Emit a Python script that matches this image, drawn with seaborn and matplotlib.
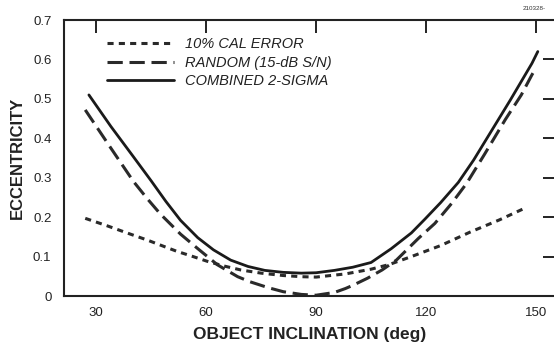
import matplotlib
matplotlib.use("Agg")
import matplotlib.pyplot as plt
import seaborn as sns
import pandas as pd

# ---- data ----
combined_x = [28, 34, 40, 45, 49, 53, 57.7, 62, 66.7, 71.4, 76, 81, 86, 90, 95, 100, 105,
              110.5, 116, 119.7, 124, 128.8, 133, 138, 143, 148.9, 150.5]
combined_y = [0.51, 0.43, 0.355, 0.292, 0.24, 0.192, 0.148, 0.117, 0.091, 0.075, 0.065, 0.06, 0.058, 0.059, 0.065, 0.073, 0.085,
              0.12, 0.16, 0.195, 0.237, 0.288, 0.345, 0.421, 0.497, 0.59, 0.62]

random_x = [27, 34, 40.2, 44, 47.5, 53, 57.6, 63.1, 68.6, 72, 77, 81, 86, 90, 95, 98, 100, 104, 108,
            111.9, 117.9, 122.4, 127, 131.1, 136, 141.6, 146, 148.9, 150]
random_y = [0.472, 0.375, 0.29, 0.246, 0.208, 0.157, 0.121, 0.079, 0.049, 0.036, 0.021, 0.011, 0.004, 0.002, 0.009, 0.019, 0.027, 0.045, 0.066,
            0.091, 0.146, 0.184, 0.235, 0.286, 0.36, 0.447, 0.51, 0.561, 0.578]

cal_x = [27, 33, 39.3, 43.9, 48.4, 52.1, 55.8, 60.3, 64.9, 69.5, 75, 81, 86, 90, 98, 105, 110, 116, 124, 132, 140, 147]
cal_y = [0.197, 0.178, 0.157, 0.142, 0.126, 0.113, 0.102, 0.088, 0.076, 0.066, 0.058, 0.052, 0.049, 0.048, 0.056, 0.068, 0.08, 0.1, 0.128, 0.162, 0.193, 0.223]

labels = ["10% CAL ERROR", "RANDOM (15-dB S/N)", "COMBINED 2-SIGMA"]
x_ticks = [30, 60, 90, 120, 150]
y_ticks = [0, 0.1, 0.2, 0.3, 0.4, 0.5, 0.6, 0.7]
y_ticklabels = ["0", "0.1", "0.2", "0.3", "0.4", "0.5", "0.6", "0.7"]

sns.set_theme(style="white")
plt.rcParams["font.family"] = ["Liberation Sans", "DejaVu Sans"]

fig = plt.figure(figsize=(5.54, 3.45), dpi=100)
ax = fig.add_axes([0.1155, 0.142, 0.887, 0.8])

df_cal = pd.DataFrame({"x": cal_x, "y": cal_y})
df_rand = pd.DataFrame({"x": random_x, "y": random_y})
df_comb = pd.DataFrame({"x": combined_x, "y": combined_y})

sns.lineplot(data=df_cal, x="x", y="y", ax=ax, color="#2a2a2a", lw=2.2,
             label=labels[0], sort=False)
sns.lineplot(data=df_rand, x="x", y="y", ax=ax, color="#2a2a2a", lw=2.2,
             label=labels[1], sort=False)
sns.lineplot(data=df_comb, x="x", y="y", ax=ax, color="#1a1a1a", lw=2.0,
             label=labels[2], sort=False)

lines = ax.get_lines()
lines[0].set_dashes((2.0, 1.7))
lines[1].set_dashes((5.0, 2.2))
for ln in lines:
    ln.set_solid_joinstyle("round")
    ln.set_dash_joinstyle("round")

ax.set_xlim(21.2, 155.3)
ax.set_ylim(0, 0.7)
ax.set_xticks(x_ticks)
ax.set_yticks(y_ticks)
ax.set_yticklabels(y_ticklabels)

ax.tick_params(axis="both", which="both", direction="in", length=9, width=1.4,
               labelsize=9.5, colors="#222222", top=True, right=True)
ax.tick_params(axis="y", pad=9)
ax.tick_params(axis="x", pad=8)
for s in ax.spines.values():
    s.set_visible(True)
    s.set_linewidth(1.5)
    s.set_color("#222222")

ax.set_xlabel("OBJECT INCLINATION (deg)", fontsize=12.5, fontweight="bold", labelpad=6, color="#222222")
ax.set_ylabel("ECCENTRICITY", fontsize=12, fontweight="bold", labelpad=6, color="#222222")

leg = ax.legend(loc="upper left", bbox_to_anchor=(0.06, 0.985), frameon=False,
                handlelength=4.6, handletextpad=0.8, labelspacing=0.3,
                prop={"style": "italic", "size": 10.5})
for t in leg.get_texts():
    t.set_color("#222222")

fig.text(0.985, 0.975, "210328-", fontsize=4.5, ha="right", va="center", color="#333333")

fig.savefig("out.png", dpi=100)
